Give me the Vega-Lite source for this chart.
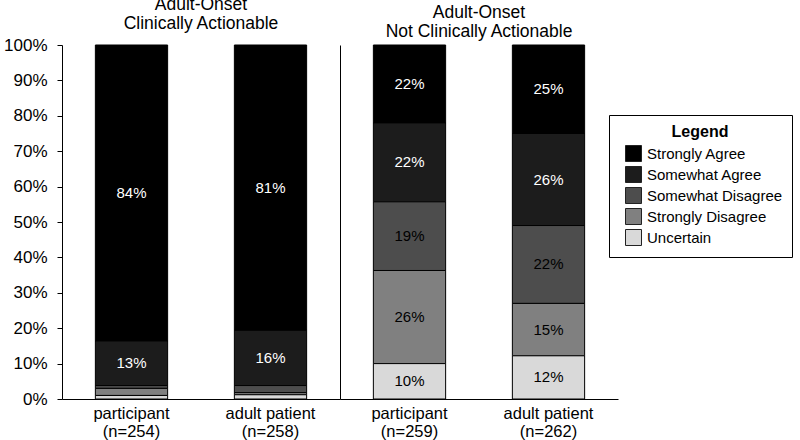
{
  "$schema": "https://vega.github.io/schema/vega-lite/v6.json",
  "background": "white",
  "padding": {"left": 3, "top": -5, "right": 5, "bottom": 5},
  "data": {
    "values": [
      {"group": "CA", "bar": "participant\n(n=254)", "response": "Strongly Agree", "rank": 5, "value": 83.6},
      {"group": "CA", "bar": "participant\n(n=254)", "response": "Somewhat Agree", "rank": 4, "value": 12.6},
      {"group": "CA", "bar": "participant\n(n=254)", "response": "Somewhat Disagree", "rank": 3, "value": 0.8},
      {"group": "CA", "bar": "participant\n(n=254)", "response": "Strongly Disagree", "rank": 2, "value": 2.0},
      {"group": "CA", "bar": "participant\n(n=254)", "response": "Uncertain", "rank": 1, "value": 1.0},
      {"group": "CA", "bar": "adult patient\n(n=258)", "response": "Strongly Agree", "rank": 5, "value": 80.6},
      {"group": "CA", "bar": "adult patient\n(n=258)", "response": "Somewhat Agree", "rank": 4, "value": 15.6},
      {"group": "CA", "bar": "adult patient\n(n=258)", "response": "Somewhat Disagree", "rank": 3, "value": 2.0},
      {"group": "CA", "bar": "adult patient\n(n=258)", "response": "Strongly Disagree", "rank": 2, "value": 0.6},
      {"group": "CA", "bar": "adult patient\n(n=258)", "response": "Uncertain", "rank": 1, "value": 1.2},
      {"group": "NCA", "bar": "participant\n(n=259)", "response": "Strongly Agree", "rank": 5, "value": 22.0},
      {"group": "NCA", "bar": "participant\n(n=259)", "response": "Somewhat Agree", "rank": 4, "value": 22.3},
      {"group": "NCA", "bar": "participant\n(n=259)", "response": "Somewhat Disagree", "rank": 3, "value": 19.4},
      {"group": "NCA", "bar": "participant\n(n=259)", "response": "Strongly Disagree", "rank": 2, "value": 26.3},
      {"group": "NCA", "bar": "participant\n(n=259)", "response": "Uncertain", "rank": 1, "value": 10.0},
      {"group": "NCA", "bar": "adult patient\n(n=262)", "response": "Strongly Agree", "rank": 5, "value": 25.0},
      {"group": "NCA", "bar": "adult patient\n(n=262)", "response": "Somewhat Agree", "rank": 4, "value": 26.0},
      {"group": "NCA", "bar": "adult patient\n(n=262)", "response": "Somewhat Disagree", "rank": 3, "value": 22.0},
      {"group": "NCA", "bar": "adult patient\n(n=262)", "response": "Strongly Disagree", "rank": 2, "value": 14.8},
      {"group": "NCA", "bar": "adult patient\n(n=262)", "response": "Uncertain", "rank": 1, "value": 12.2}
    ]
  },
  "transform": [{"calculate": "format(datum.value, '.0f') + '%'", "as": "label"}],
  "config": {
    "font": "Liberation Sans",
    "view": {"stroke": null},
    "axis": {"labelFont": "Liberation Sans", "labelColor": "black", "domainColor": "black", "tickColor": "black", "grid": false, "title": null},
    "title": {"font": "Liberation Sans", "fontSize": 17.5, "fontWeight": "normal", "color": "black", "lineHeight": 19, "offset": 0, "anchor": "middle"},
    "legend": {
      "titleFont": "Liberation Sans", "titleFontSize": 16, "titleFontWeight": "bold", "titleColor": "black",
      "titleAnchor": "middle", "titlePadding": 5,
      "labelFont": "Liberation Sans", "labelFontSize": 15, "labelColor": "black", "labelOffset": 5, "labelLimit": 300,
      "symbolType": "square", "symbolSize": 256, "symbolStrokeColor": "#222222", "symbolStrokeWidth": 1, "symbolOpacity": 1, "symbolOffset": 7,
      "rowPadding": 0, "padding": 9, "strokeColor": "black", "fillColor": "white"
    }
  },
  "spacing": 0,
  "resolve": {"scale": {"x": "independent"}, "axis": {"y": "independent"}},
  "hconcat": [
    {
      "width": 278,
      "height": 354,
      "title": {"text": ["Adult-Onset", "Clinically Actionable"]},
      "transform": [{"filter": "datum.group === 'CA'"}],
      "encoding": {
        "x": {"field": "bar", "type": "nominal", "sort": null,
          "scale": {"paddingInner": 0.48, "paddingOuter": 0.24},
          "axis": {"labelFontSize": 16.5, "ticks": false, "labelPadding": 6, "labelLineHeight": 18, "labelAngle": 0, "labelExpr": "split(datum.label, '\\n')"}},
        "y": {"field": "value", "type": "quantitative", "stack": "zero",
          "scale": {"domain": [0, 100]},
          "axis": {"values": [0, 10, 20, 30, 40, 50, 60, 70, 80, 90, 100], "labelExpr": "datum.value + '%'", "labelFontSize": 17, "tickSize": 5, "labelPadding": 10}},
        "order": {"field": "rank", "type": "quantitative"}
      },
      "layer": [
        {
          "mark": {"type": "bar", "stroke": "black", "strokeWidth": 1},
          "encoding": {
            "color": {"field": "response", "type": "nominal",
              "scale": {"domain": ["Strongly Agree", "Somewhat Agree", "Somewhat Disagree", "Strongly Disagree", "Uncertain"],
                        "range": ["#000000", "#1c1c1c", "#4d4d4d", "#808080", "#d9d9d9"]},
              "legend": {"title": "Legend", "orient": "none", "legendX": 547, "legendY": 70}}
          }
        },
        {
          "mark": {"type": "text", "fontSize": 15, "font": "Liberation Sans"},
          "encoding": {
            "y": {"field": "value", "type": "quantitative", "stack": "zero", "bandPosition": 0.5},
            "detail": {"field": "response"},
            "text": {"condition": {"test": "datum.value < 5", "value": ""}, "field": "label"},
            "color": {"condition": {"test": "datum.rank >= 4", "value": "white"}, "value": "black"}
          }
        }
      ]
    },
    {
      "width": 278,
      "height": 354,
      "title": {"text": ["Adult-Onset", "Not Clinically Actionable"]},
      "transform": [{"filter": "datum.group === 'NCA'"}],
      "encoding": {
        "x": {"field": "bar", "type": "nominal", "sort": null,
          "scale": {"paddingInner": 0.48, "paddingOuter": 0.24},
          "axis": {"labelFontSize": 16.5, "ticks": false, "labelPadding": 6, "labelLineHeight": 18, "labelAngle": 0, "labelExpr": "split(datum.label, '\\n')"}},
        "y": {"field": "value", "type": "quantitative", "stack": "zero",
          "scale": {"domain": [0, 100]},
          "axis": {"labels": false, "ticks": false, "domain": true}},
        "order": {"field": "rank", "type": "quantitative"}
      },
      "layer": [
        {
          "mark": {"type": "bar", "stroke": "black", "strokeWidth": 1},
          "encoding": {
            "color": {"field": "response", "type": "nominal",
              "scale": {"domain": ["Strongly Agree", "Somewhat Agree", "Somewhat Disagree", "Strongly Disagree", "Uncertain"],
                        "range": ["#000000", "#1c1c1c", "#4d4d4d", "#808080", "#d9d9d9"]},
              "legend": {"title": "Legend", "orient": "none", "legendX": 547, "legendY": 70}}
          }
        },
        {
          "mark": {"type": "text", "fontSize": 15, "font": "Liberation Sans"},
          "encoding": {
            "y": {"field": "value", "type": "quantitative", "stack": "zero", "bandPosition": 0.5},
            "detail": {"field": "response"},
            "text": {"condition": {"test": "datum.value < 5", "value": ""}, "field": "label"},
            "color": {"condition": {"test": "datum.rank >= 4", "value": "white"}, "value": "black"}
          }
        }
      ]
    }
  ]
}
